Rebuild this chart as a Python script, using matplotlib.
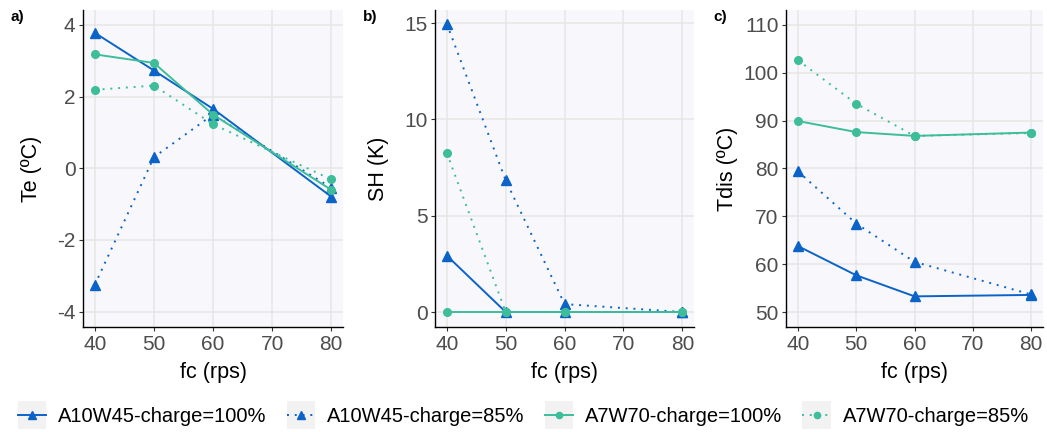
#!/usr/bin/env python3
import matplotlib
matplotlib.use("Agg")
import matplotlib.pyplot as plt
from matplotlib.legend_handler import HandlerLine2D
from matplotlib.lines import Line2D
from matplotlib.patches import Rectangle

# --------------------------------------------------------------------
# Data
# --------------------------------------------------------------------
FC = [40, 50, 60, 80]
SERIES = ["A10W45-charge=100%", "A10W45-charge=85%",
          "A7W70-charge=100%", "A7W70-charge=85%"]

TE_A10_100 = [3.78, 2.73, 1.66, -0.79]
TE_A10_85 = [-3.25, 0.31, 1.50, -0.54]
TE_A7_100 = [3.18, 2.94, 1.50, -0.60]
TE_A7_85 = [2.19, 2.31, 1.23, -0.31]

SH_A10_100 = [2.93, 0.0, 0.0, 0.0]
SH_A10_85 = [14.97, 6.84, 0.41, 0.0]
SH_A7_100 = [0.0, 0.0, 0.0, 0.0]
SH_A7_85 = [8.26, 0.0, 0.0, 0.0]

TDIS_A10_100 = [63.8, 57.7, 53.3, 53.6]
TDIS_A10_85 = [79.4, 68.5, 60.5, 53.7]
TDIS_A7_100 = [89.9, 87.6, 86.8, 87.5]
TDIS_A7_85 = [102.6, 93.5, 86.8, 87.4]

BLUE = "#0b63c8"
TEAL = "#3dbd9a"
STYLES = [
    dict(color=BLUE, ls="-", marker="^", ms=6.5),
    dict(color=BLUE, ls=(0, (1, 3)), marker="^", ms=6.5),
    dict(color=TEAL, ls="-", marker="o", ms=5.5),
    dict(color=TEAL, ls=(0, (1, 3)), marker="o", ms=5.5),
]

PANELS = [
    dict(tag="a)", ylabel="Te (ºC)", ylim=(-4.43, 4.42), yticks=[-4, -2, 0, 2, 4],
         series=[TE_A10_100, TE_A10_85, TE_A7_100, TE_A7_85],
         rect=[0.0793, 0.243, 0.2483, 0.734], tagx=0.010, lpad=11),
    dict(tag="b)", ylabel="SH (K)", ylim=(-0.78, 15.69), yticks=[0, 5, 10, 15],
         series=[SH_A10_100, SH_A10_85, SH_A7_100, SH_A7_85],
         rect=[0.4155, 0.243, 0.2475, 0.734], tagx=0.347, lpad=11),
    dict(tag="c)", ylabel="Tdis (ºC)", ylim=(46.9, 113.1),
         yticks=[50, 60, 70, 80, 90, 100, 110],
         series=[TDIS_A10_100, TDIS_A10_85, TDIS_A7_100, TDIS_A7_85],
         rect=[0.751, 0.243, 0.245, 0.734], tagx=0.681, lpad=4),
]

plt.rcParams["font.family"] = ["Liberation Sans", "DejaVu Sans"]
plt.rcParams["axes.unicode_minus"] = False


class KeyHandler(HandlerLine2D):
    """legend key with a light grey square behind it (ggplot look)"""
    def create_artists(self, legend, orig_handle, xdescent, ydescent,
                       width, height, fontsize, trans):
        arts = super().create_artists(legend, orig_handle, xdescent, ydescent,
                                      width, height, fontsize, trans)
        cy = -ydescent + height / 2
        bg = Rectangle((-xdescent, cy - width / 2), width, width,
                       facecolor="#f2f2f2", edgecolor="none", transform=trans)
        return [bg] + arts


fig = plt.figure(figsize=(10.47, 4.32), dpi=100)

for p in PANELS:
    ax = fig.add_axes(p["rect"])
    ax.set_facecolor("#f8f8fc")
    for vals, st in zip(p["series"], STYLES):
        ax.plot(FC, vals, color=st["color"], linestyle=st["ls"], lw=1.4,
                marker=st["marker"], markersize=st["ms"], zorder=3)
    ax.set_xlim(38, 82)
    ax.set_ylim(*p["ylim"])
    ax.set_xticks([40, 50, 60, 70, 80])
    ax.set_yticks(p["yticks"])
    ax.grid(True, color="#e6e6e6", lw=1.1, zorder=0)
    ax.set_axisbelow(True)
    for s in ["top", "right"]:
        ax.spines[s].set_visible(False)
    for s in ["left", "bottom"]:
        ax.spines[s].set_color("black")
        ax.spines[s].set_linewidth(1.0)
    ax.tick_params(axis="both", labelsize=15, labelcolor="#4d4d4d",
                   length=3, width=0.8, color="#333333", pad=2.5)
    ax.set_xlabel("fc (rps)", fontsize=15.5, labelpad=6)
    ax.set_ylabel(p["ylabel"], fontsize=15.5, labelpad=p["lpad"])
    fig.text(p["tagx"], 0.978, p["tag"], fontsize=11, fontweight="bold",
             ha="left", va="top")

handles = [Line2D([], [], color=st["color"], linestyle=st["ls"], lw=1.4,
                  marker=st["marker"], markersize=st["ms"] - 1)
           for st in STYLES]
fig.legend(handles, SERIES, loc="center", bbox_to_anchor=(0.5, 0.036), ncol=4,
           frameon=False, fontsize=14.5, handlelength=1.4, handletextpad=0.6,
           columnspacing=1.0, handler_map={Line2D: KeyHandler(numpoints=1)})

fig.savefig("out.png", dpi=100)
